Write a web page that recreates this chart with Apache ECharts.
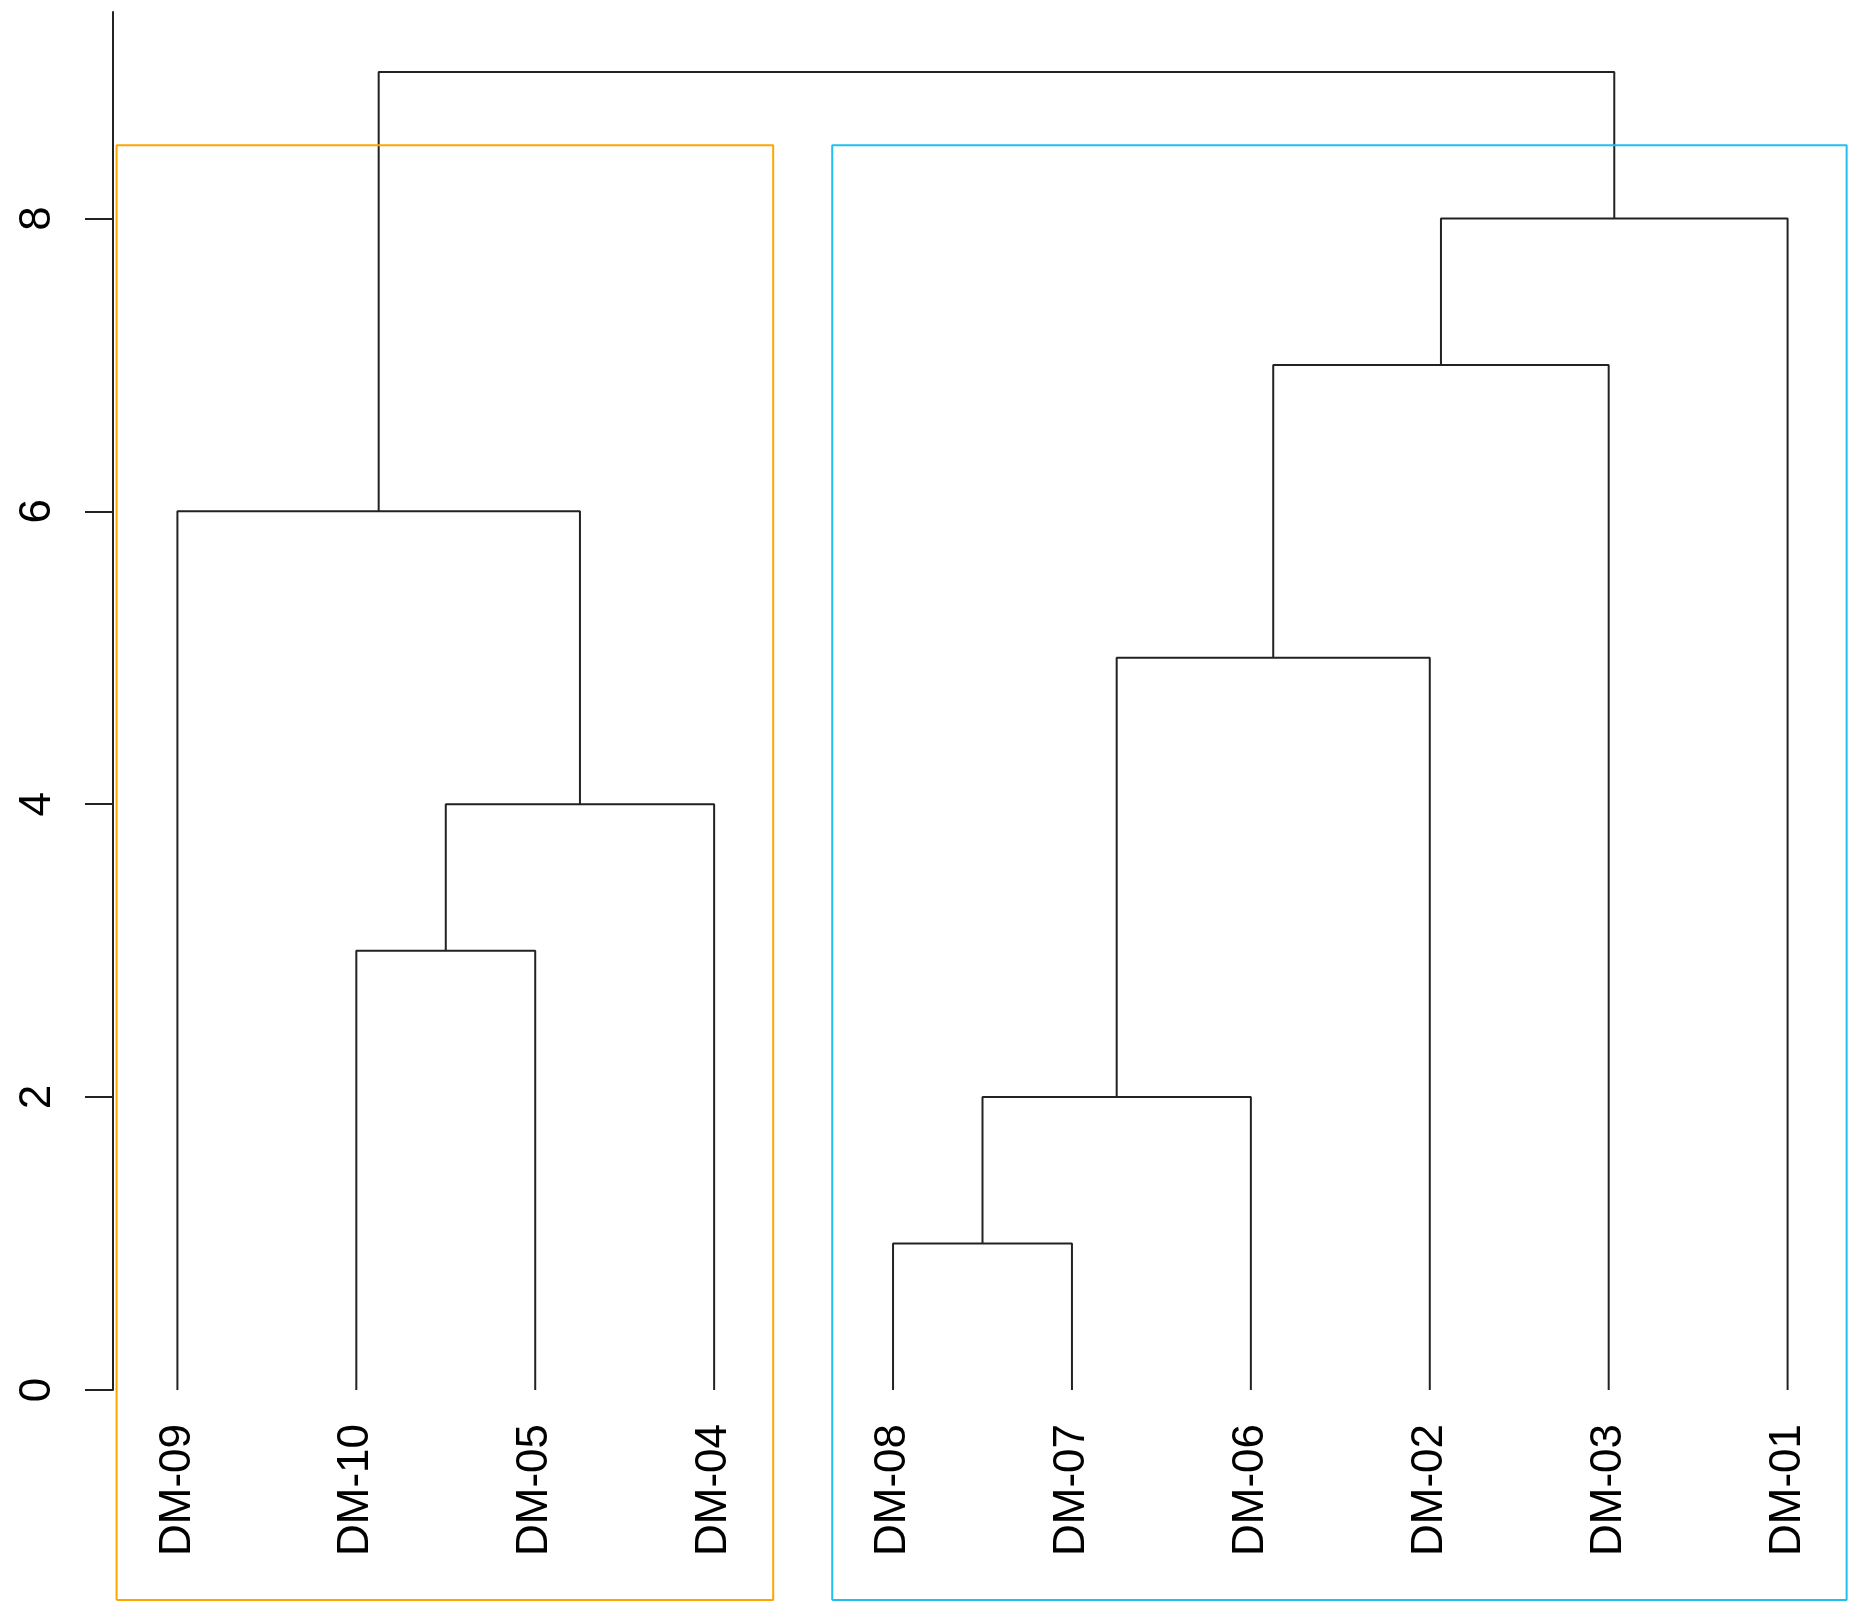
<!DOCTYPE html>
<html>
<head>
<meta charset="utf-8">
<script src="https://cdn.jsdelivr.net/npm/echarts@6/dist/echarts.min.js"></script>
<style>
  html, body { margin: 0; padding: 0; background: #fff; }
  #chart { width: 1863px; height: 1620px; }
</style>
</head>
<body>
<div id="chart"></div>
<script>
// ---- data ----
const leafOrder = ['DM-09', 'DM-10', 'DM-05', 'DM-04', 'DM-08', 'DM-07', 'DM-06', 'DM-02', 'DM-03', 'DM-01'];
// merge steps (numbers refer to earlier merge steps, 1-based; strings are leaves)
const mergeLeft   = ['DM-08', 1, 'DM-10', 3, 2, 'DM-09', 5, 7, 6];
const mergeRight  = ['DM-07', 'DM-06', 'DM-05', 'DM-04', 'DM-02', 4, 'DM-03', 'DM-01', 8];
const mergeHeight = [1, 2, 3, 4, 5, 6, 7, 8, 9];
const yTicks = [0, 2, 4, 6, 8];
const clusterColors = ['#FFA500', '#22BEEF'];

// ---- layout derived from data ----
const Y_MAX = 9.41, X_MIN = 0.64, X_MAX = 10.36;
const BOX_BOTTOM = -1.434; // bottom of the plotting region (below the leaf labels)
const LABEL_FONT = "'Liberation Sans', Arial, sans-serif";

const nodes = []; // merge nodes {x, y, leaves}
function nodeOf(ref) {
  if (typeof ref === 'string') {
    return { x: leafOrder.indexOf(ref) + 1, y: 0, leaves: [ref] };
  }
  return nodes[ref - 1];
}
const series = [];
const lineStyle = { color: '#222', width: 2 };
for (let i = 0; i < mergeHeight.length; i++) {
  const a = nodeOf(mergeLeft[i]), b = nodeOf(mergeRight[i]);
  const h = mergeHeight[i];
  nodes.push({ x: (a.x + b.x) / 2, y: h, leaves: a.leaves.concat(b.leaves) });
  series.push({
    type: 'line', symbol: 'none', silent: true, animation: false, clip: false,
    lineStyle: lineStyle,
    data: [[a.x, a.y], [a.x, h], [b.x, h], [b.x, b.y]]
  });
}
// cut into k = 2 clusters: the two children of the last merge
const n = mergeHeight.length;
const topChildren = [nodeOf(mergeLeft[n - 1]), nodeOf(mergeRight[n - 1])]
  .sort((p, q) => p.x - q.x);
const boxTop = (mergeHeight[n - 1] + mergeHeight[n - 2]) / 2;
topChildren.forEach((c, k) => {
  const pos = c.leaves.map(l => leafOrder.indexOf(l) + 1);
  const x0 = Math.min(...pos) - 0.34, x1 = Math.max(...pos) + 0.33;
  series.push({
    type: 'line', symbol: 'none', silent: true, animation: false, clip: false,
    lineStyle: { color: clusterColors[k], width: 2 },
    data: [[x0, BOX_BOTTOM], [x0, boxTop], [x1, boxTop], [x1, BOX_BOTTOM], [x0, BOX_BOTTOM]]
  });
});

const chart = echarts.init(document.getElementById('chart'), null, { renderer: 'canvas' });
chart.setOption({
  animation: false,
  backgroundColor: '#fff',
  grid: { left: 113, top: 12, width: 1739, height: 1378, containLabel: false, outerBoundsMode: 'none' },
  xAxis: {
    type: 'value', min: X_MIN, max: X_MAX,
    splitLine: { show: false },
    axisLine: { show: false },
    axisTick: { show: false },
    axisLabel: {
      customValues: leafOrder.map((_, i) => i + 1),
      formatter: v => leafOrder[Math.round(v) - 1] || '',
      rotate: 90, margin: 34,
      fontFamily: LABEL_FONT, fontSize: 44, color: '#000'
    }
  },
  yAxis: {
    type: 'value', min: 0, max: Y_MAX,
    splitLine: { show: false },
    axisLine: { show: true, lineStyle: { color: '#222', width: 2 } },
    axisTick: { show: true, customValues: yTicks, length: 28, lineStyle: { color: '#222', width: 2 } },
    axisLabel: {
      customValues: yTicks, rotate: 90, margin: 53,
      fontFamily: LABEL_FONT, fontSize: 44, color: '#000'
    }
  },
  series: series
});
</script>
</body>
</html>
